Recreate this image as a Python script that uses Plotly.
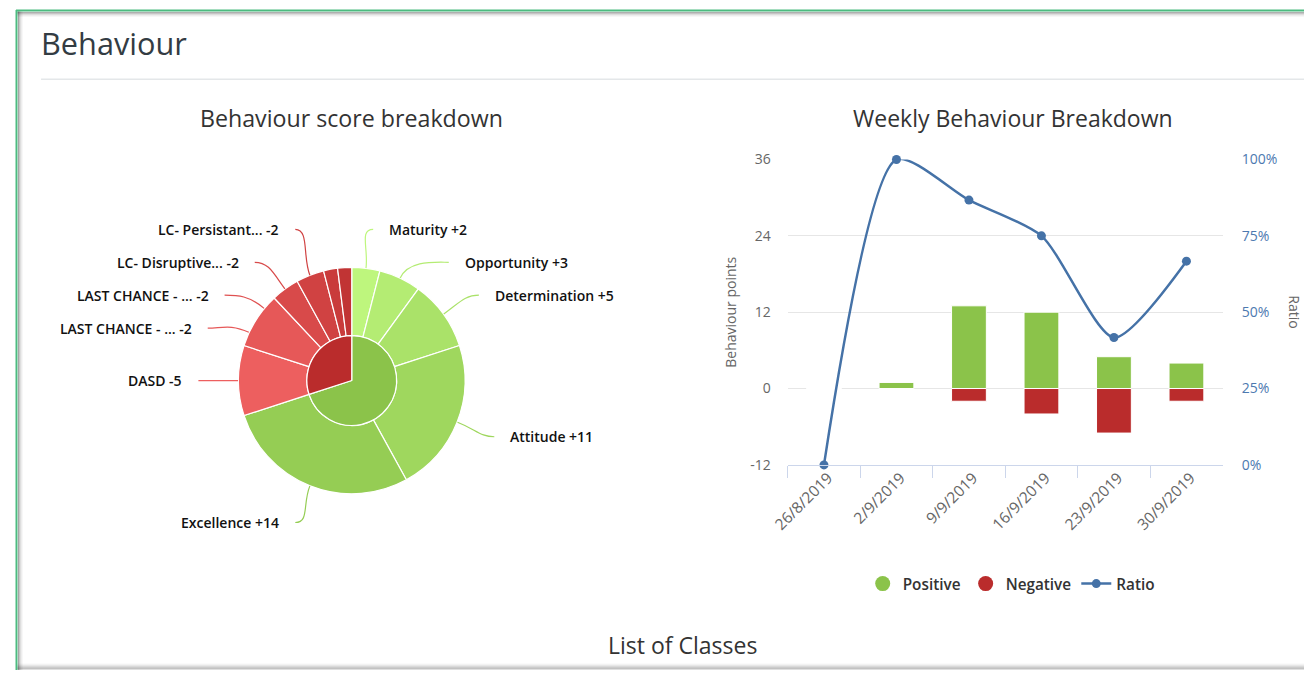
import math
import plotly.graph_objects as go

# ---------------- data ----------------
pie_groups = ["Positive", "Negative"]
pie_group_values = [35, 15]
pie_group_colors = ["#8BC34A", "#BA2C2C"]

pie_items = ["Maturity", "Opportunity", "Determination", "Attitude", "Excellence",
             "DASD", "LAST CHANCE - ...", "LAST CHANCE - ...", "LC- Disruptive...",
             "LC- Persistant...", "LC- Other...", "LC- Other... "]
pie_item_values = [2, 3, 5, 11, 14, 5, 2, 2, 2, 2, 1, 1]
pie_item_signs = ["+", "+", "+", "+", "+", "-", "-", "-", "-", "-", "-", "-"]
pie_item_show_label = [True] * 10 + [False, False]
pie_item_colors = ["#BEF67D", "#B4EC73", "#AAE269", "#9FD75E", "#95CD54",
                   "#ED5F5F", "#E65858", "#DF5151", "#D84A4A", "#D04242", "#C93B3B", "#C13434"]

weeks = ["26/8/2019", "2/9/2019", "9/9/2019", "16/9/2019", "23/9/2019", "30/9/2019"]
positive = [0, 1, 13, 12, 5, 4]
negative = [0, 0, -2, -4, -7, -2]
ratio = [0.0, 1.0, 0.867, 0.75, 0.417, 0.667]

left_ticks = [-12, 0, 12, 24, 36]
left_tick_text = ["-12", "0", "12", "24", "36"]
right_ticks = [0, 0.25, 0.5, 0.75, 1.0]
right_tick_text = ["0%", "25%", "50%", "75%", "100%"]

GREEN = "#8BC34A"
RED = "#BA2C2C"
BLUE = "#4572A7"
FONT = "Open Sans"

# ---------------- geometry helpers ----------------
# layout is designed in screen pixels; the captured page is slightly inset/scaled,
# so screen pixels are converted to paper fractions here.
W, H = 1304, 679
OX, OY = 20.0, 9.2
SXS, SYS = 0.984, 0.974


def px(x):
    return (x - OX) / SXS / W


def py(y):
    return 1 - (y - OY) / SYS / H


fig = go.Figure()

# ---------------- donut (two pies) ----------------
CX, CY = 353, 380.5
R_OUT, R_IN = 113.5, 45

fig.add_trace(go.Pie(
    labels=pie_items, values=pie_item_values, sort=False, direction="clockwise",
    rotation=0, hole=R_IN / R_OUT, textinfo="none", showlegend=False,
    marker=dict(colors=pie_item_colors, line=dict(color="white", width=1.2)),
    domain=dict(x=[px(CX - R_OUT), px(CX + R_OUT)], y=[py(CY + R_OUT), py(CY - R_OUT)]),
    hoverinfo="label+value",
))
fig.add_trace(go.Pie(
    labels=pie_groups, values=pie_group_values, sort=False, direction="clockwise",
    rotation=0, textinfo="none", showlegend=False,
    marker=dict(colors=pie_group_colors, line=dict(color="white", width=1.2)),
    domain=dict(x=[px(CX - R_IN), px(CX + R_IN)], y=[py(CY + R_IN), py(CY - R_IN)]),
    hoverinfo="label+value",
))

# data labels with connectors (Highcharts-like placement, computed from the values)
total = sum(pie_item_values)
RL = 153          # connector end radius
GAP = 14          # connector end -> text
SPACING = 33
YMIN, YMAX = 229, 525
labels_info = []
cum = 0
for name, v, s, show, col in zip(pie_items, pie_item_values, pie_item_signs,
                                   pie_item_show_label, pie_item_colors):
    mid = (cum + v / 2) / total * 2 * math.pi
    cum += v
    if not show:
        continue
    labels_info.append(dict(text=f"{name} {s}{v}", ang=mid, col=col,
                            left=mid > math.pi, y0=CY - RL * math.cos(mid)))


def distribute(items):
    groups = [[d] for d in sorted(items, key=lambda d: d["y0"])]

    def place(g):
        n = len(g)
        start = sum(d["y0"] for d in g) / n - (n - 1) * SPACING / 2
        start = min(max(start, YMIN), YMAX - (n - 1) * SPACING)
        return start

    changed = True
    while changed:
        changed = False
        for i in range(len(groups) - 1):
            a, b = groups[i], groups[i + 1]
            end_a = place(a) + (len(a) - 1) * SPACING
            if place(b) < end_a + SPACING:
                groups[i] = a + b
                del groups[i + 1]
                changed = True
                break
    for g in groups:
        s0 = place(g)
        for k, d in enumerate(g):
            d["y"] = s0 + k * SPACING


distribute([d for d in labels_info if not d["left"]])
distribute([d for d in labels_info if d["left"]])

annotations = []
shapes = []
for d in labels_info:
    sgn = -1 if d["left"] else 1
    dy = d["y"] - CY
    x_circle = CX + sgn * math.sqrt(max(RL ** 2 - dy ** 2, 0))
    x_nat = CX + RL * math.sin(d["ang"])
    xa = min(x_circle, x_nat) if d["left"] else max(x_circle, x_nat)
    annotations.append(dict(
        text=d["text"], x=px(xa + sgn * GAP), y=py(d["y"]), xref="paper", yref="paper",
        xanchor="right" if d["left"] else "left", yanchor="middle", showarrow=False,
        font=dict(family=FONT, size=14, color="#111111", weight=600)))
    # connector
    sx = CX + R_OUT * math.sin(d["ang"])
    sy = CY - R_OUT * math.cos(d["ang"])
    c1x = CX + (R_OUT + 20) * math.sin(d["ang"])
    c1y = CY - (R_OUT + 20) * math.cos(d["ang"])
    c2x = xa - sgn * 14
    path = (f"M {px(sx)},{py(sy)} C {px(c1x)},{py(c1y)} {px(c2x)},{py(d['y'])} "
            f"{px(xa)},{py(d['y'])}")
    shapes.append(dict(type="path", xref="paper", yref="paper", path=path,
                       line=dict(color=d["col"], width=1.2)))

# ---------------- weekly combo chart ----------------
fig.add_trace(go.Bar(x=weeks, y=positive, name="Positive", marker_color=GREEN,
                     marker_line=dict(color="white", width=1), showlegend=False,
                     xaxis="x", yaxis="y"))
fig.add_trace(go.Bar(x=weeks, y=negative, name="Negative", marker_color=RED,
                     marker_line=dict(color="white", width=1), showlegend=False,
                     xaxis="x", yaxis="y"))
# legend entries (circle symbols as in the original)
fig.add_trace(go.Scatter(x=[None], y=[None], mode="markers", name="Positive",
                         marker=dict(color=GREEN, size=15, symbol="circle"),
                         xaxis="x", yaxis="y"))
fig.add_trace(go.Scatter(x=[None], y=[None], mode="markers", name="Negative",
                         marker=dict(color=RED, size=15, symbol="circle"),
                         xaxis="x", yaxis="y"))
fig.add_trace(go.Scatter(x=weeks, y=ratio, name="Ratio", mode="lines+markers",
                         line=dict(color=BLUE, width=2.5, shape="spline", smoothing=0.7),
                         marker=dict(color=BLUE, size=9), cliponaxis=False,
                         xaxis="x", yaxis="y2"))

# ---------------- texts ----------------
annotations += [
    dict(text="Behaviour", x=px(41), y=py(42), xanchor="left", yanchor="middle",
         font=dict(family=FONT, size=30.7, color="#333c43")),
    dict(text="Behaviour score breakdown", x=px(353), y=py(117), xanchor="center",
         yanchor="middle", font=dict(family=FONT, size=23.2, color="#333333")),
    dict(text="Weekly Behaviour Breakdown", x=px(1013), y=py(117), xanchor="center",
         yanchor="middle", font=dict(family=FONT, size=23, color="#333333")),
    dict(text="List of Classes", x=px(683), y=py(645), xanchor="center",
         yanchor="middle", font=dict(family=FONT, size=23, color="#333333")),
    dict(text="Behaviour points", x=px(731), y=py(312), xanchor="center",
         yanchor="middle", textangle=-90, font=dict(family=FONT, size=14, color="#666666")),
    dict(text="Ratio", x=px(1294), y=py(312), xanchor="center",
         yanchor="middle", textangle=90, font=dict(family=FONT, size=14, color="#666666")),
]
for a in annotations:
    a.setdefault("xref", "paper")
    a.setdefault("yref", "paper")
    a.setdefault("showarrow", False)

# ---------------- frame decorations ----------------
TOP = 9.8
shapes += [
    dict(type="line", xref="paper", yref="paper", x0=px(43), x1=1, y0=py(78.5), y1=py(78.5),
         line=dict(color="#e4e7e9", width=1.5)),
]
for i, op in enumerate([0.35, 0.22, 0.13, 0.07, 0.03]):
    shapes.append(dict(type="line", xref="paper", yref="paper", x0=px(20.5 + i), x1=px(20.5 + i),
                       y0=0, y1=1, line=dict(color=f"rgba(0,0,0,{op})", width=1)))
    shapes.append(dict(type="line", xref="paper", yref="paper", x0=px(19), x1=1,
                       y0=py(TOP + 2 + i), y1=py(TOP + 2 + i),
                       line=dict(color=f"rgba(0,0,0,{op})", width=1)))
for i, op in enumerate([0.03, 0.07, 0.12, 0.18, 0.24, 0.28]):
    shapes.append(dict(type="line", xref="paper", yref="paper", x0=px(19), x1=1,
                       y0=py(664.5 + i), y1=py(664.5 + i),
                       line=dict(color=f"rgba(0,0,0,{op})", width=1)))
shapes += [
    dict(type="line", xref="paper", yref="paper", x0=px(18), x1=1, y0=py(TOP), y1=py(TOP),
         line=dict(color="#4cbb80", width=2)),
    dict(type="line", xref="paper", yref="paper", x0=px(18.5), x1=px(18.5), y0=0, y1=1,
         line=dict(color="#4cbb80", width=2)),
]

fig.update_layout(
    width=W, height=H,
    margin=dict(l=0, r=0, t=0, b=0, pad=0),
    paper_bgcolor="white", plot_bgcolor="white",
    font=dict(family=FONT, color="#333333"),
    barmode="relative", bargap=0.52,
    xaxis=dict(domain=[px(788), px(1222)], type="category", categoryorder="array",
               categoryarray=weeks, range=[-0.5, len(weeks) - 0.5], tickson="boundaries",
               ticks="outside", ticklen=12, tickcolor="#ccd6eb", showline=True,
               linecolor="#ccd6eb", linewidth=1, showgrid=False, tickangle=-45,
               ticklabelstandoff=-3, ticklabelshift=4,
               tickfont=dict(family=FONT, size=15.5, color="#666666"), anchor="y",
               fixedrange=True),
    yaxis=dict(domain=[py(465), py(159)], range=[-12, 36], tickvals=left_ticks,
               ticktext=left_tick_text,
               gridcolor="#e6e6e6", gridwidth=1, zeroline=False, showline=False,
               ticklabelstandoff=16, tickfont=dict(family=FONT, size=14, color="#666666"),
               anchor="x", fixedrange=True),
    yaxis2=dict(domain=[py(465), py(159)], range=[0, 1], tickvals=right_ticks,
                ticktext=right_tick_text, overlaying="y", side="right", showgrid=False,
                zeroline=False, showline=False, ticklabelstandoff=18, anchor="x",
                tickfont=dict(family=FONT, size=14, color="#4d79b0"), fixedrange=True),
    legend=dict(orientation="h", x=px(1011), xanchor="center", y=py(584), yanchor="middle",
                font=dict(family=FONT, size=15.3, color="#333333", weight=600),
                bgcolor="rgba(0,0,0,0)", itemclick=False),
    annotations=annotations,
    shapes=shapes,
    hovermode="closest",
)

fig.write_html(
    "out.html",
    config={"displayModeBar": False},
    post_script=(
        "document.documentElement.style.cssText='margin:0;padding:0;overflow:hidden;';"
        "document.body.style.cssText='margin:0;padding:0;overflow:hidden;';"
    ),
)
